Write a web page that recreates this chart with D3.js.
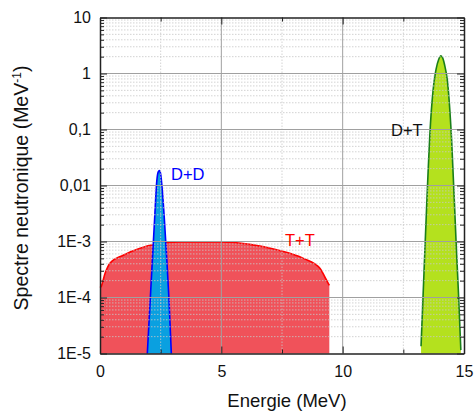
<!DOCTYPE html>
<html><head><meta charset="utf-8">
<script src="https://cdn.jsdelivr.net/npm/d3@7"></script>
<style>body{margin:0;background:#fff}svg{display:block}text{font-family:"Liberation Sans",Arial,sans-serif}</style>
</head><body><svg id="c" width="474" height="414"></svg>
<script>
// Data (energy in MeV, spectrum in MeV^-1)
const ttE = [0.0, 0.04, 0.21, 0.41, 0.96, 1.65, 2.34, 3.3, 4.95, 6.18, 7.28, 8.38, 9.07, 9.27, 9.45];
const ttV = [1.5e-4, 1.55e-4, 2.7e-4, 4.1e-4, 5.7e-4, 7.6e-4, 9.0e-4, 9.8e-4, 9.8e-4, 8.9e-4, 7.1e-4, 5.0e-4, 3.3e-4, 2.3e-4, 1.65e-4];
const ddE = [1.95, 2.05, 2.15, 2.25, 2.34, 2.40, 2.45, 2.50, 2.56, 2.65, 2.75, 2.85, 2.94];
const ddV = [1e-5, 6.3e-5, 4e-4, 2.5e-3, 1.2e-2, 1.75e-2, 1.85e-2, 1.6e-2, 9e-3, 2.6e-3, 5e-4, 8e-5, 1e-5];
const dtE = [13.23, 13.35, 13.46, 13.62, 13.76, 13.85, 13.96, 14.05, 14.12, 14.22, 14.31, 14.49, 14.67, 14.78, 14.87];
const dtV = [1.35e-5, 2.7e-4, 4.2e-3, 0.13, 0.68, 1.2, 1.8, 2.07, 1.9, 1.3, 0.78, 0.065, 1.07e-3, 1.0e-4, 1.15e-5];
const xTicks = [0, 5, 10, 15];
const yTicks = [1e-5, 1e-4, 1e-3, 1e-2, 1e-1, 1, 10];
const yTickLabels = ["1E-5", "1E-4", "1E-3", "0,01", "0,1", "1", "10"];

const svg = d3.select("#c");
const L = 100, R = 464, T = 17.5, B = 353.5;
const x = d3.scaleLinear().domain([0, 15]).range([L, R]);
const y = d3.scaleLog().domain([1e-5, 10]).range([B, T]);

const g = svg.append("g");
function series(E, V, fill, stroke) {
  const pts = E.map((e, i) => [e, V[i]]);
  const area = d3.area().x(d => x(d[0])).y0(y(1e-5)).y1(d => y(Math.max(d[1], 1e-5))).curve(d3.curveMonotoneX);
  g.append("path").datum(pts).attr("d", area).attr("fill", fill);
  const line = d3.line().x(d => x(d[0])).y(d => y(Math.max(d[1], 1e-5))).curve(d3.curveMonotoneX);
  g.append("path").datum(pts).attr("d", line).attr("fill", "none").attr("stroke", stroke).attr("stroke-width", 1.6);
}
series(ttE, ttV, "#f0525a", "#ff0000");
series(ddE, ddV, "#0aa0e0", "#0000ff");
series(dtE, dtV, "#b4e11e", "#1a7f1a");

// grid on top
const grid = svg.append("g");
const minorY = [];
for (let d = -5; d < 1; d++) for (let k = 2; k <= 9; k++) minorY.push(k * Math.pow(10, d));
grid.selectAll(".my").data(minorY).enter().append("line")
  .attr("x1", L).attr("x2", R).attr("y1", d => y(d)).attr("y2", d => y(d))
  .attr("stroke", "#c8c8c8").attr("stroke-width", 0.8).attr("stroke-dasharray", "1.5,1.5");
grid.selectAll(".mx").data([2.5, 7.5, 12.5]).enter().append("line")
  .attr("y1", T).attr("y2", B).attr("x1", d => x(d)).attr("x2", d => x(d))
  .attr("stroke", "#c8c8c8").attr("stroke-width", 0.8).attr("stroke-dasharray", "1.5,1.5");
grid.selectAll(".Y").data(yTicks.slice(1, -1)).enter().append("line")
  .attr("x1", L).attr("x2", R).attr("y1", d => y(d)).attr("y2", d => y(d))
  .attr("stroke", "#a0a0a0").attr("stroke-width", 1);
grid.selectAll(".X").data([5, 10]).enter().append("line")
  .attr("y1", T).attr("y2", B).attr("x1", d => x(d)).attr("x2", d => x(d))
  .attr("stroke", "#a0a0a0").attr("stroke-width", 1);

// axes
const fmt = d => yTickLabels[yTicks.indexOf(d)];
function styleAx(sel) { sel.selectAll("path").attr("stroke", "#222").attr("stroke-width", 1.5); sel.selectAll("line").attr("stroke", "#222"); sel.selectAll("text").attr("font-size", 16).attr("fill", "#111").attr("font-family", "Liberation Sans, Arial, sans-serif"); }
const minorX = [2.5, 7.5, 12.5];
svg.append("g").attr("transform", `translate(0,${B})`)
  .call(d3.axisBottom(x).tickValues(xTicks).tickSizeInner(-7).tickSizeOuter(0).tickPadding(12).tickFormat(d3.format("d"))).call(styleAx);
svg.append("g").attr("transform", `translate(0,${B})`)
  .call(d3.axisBottom(x).tickValues(minorX).tickSize(-4).tickFormat("")).call(s => { s.select("path").remove(); s.selectAll("line").attr("stroke", "#222"); });
svg.append("g").attr("transform", `translate(0,${T})`)
  .call(d3.axisTop(x).tickValues(xTicks).tickSizeInner(-7).tickSizeOuter(0).tickFormat("")).call(styleAx);
svg.append("g").attr("transform", `translate(0,${T})`)
  .call(d3.axisTop(x).tickValues(minorX).tickSize(-4).tickFormat("")).call(s => { s.select("path").remove(); s.selectAll("line").attr("stroke", "#222"); });
svg.append("g").attr("transform", `translate(${L},0)`)
  .call(d3.axisLeft(y).tickValues(yTicks).tickSizeInner(-7).tickSizeOuter(0).tickPadding(9).tickFormat(fmt)).call(styleAx);
svg.append("g").attr("transform", `translate(${L},0)`)
  .call(d3.axisLeft(y).tickValues(minorY).tickSize(-4).tickFormat("")).call(s => { s.select("path").remove(); s.selectAll("line").attr("stroke", "#222"); });
svg.append("g").attr("transform", `translate(${R},0)`)
  .call(d3.axisRight(y).tickValues(yTicks).tickSizeInner(-7).tickSizeOuter(0).tickFormat("")).call(styleAx);
svg.append("g").attr("transform", `translate(${R},0)`)
  .call(d3.axisRight(y).tickValues(minorY).tickSize(-4).tickFormat("")).call(s => { s.select("path").remove(); s.selectAll("line").attr("stroke", "#222"); });

// labels
svg.append("text").attr("x", 171).attr("y", 180).attr("font-size", 16.5).attr("fill", "#0000ff").text("D+D");
svg.append("text").attr("x", 285).attr("y", 246).attr("font-size", 16.5).attr("fill", "#ff0000").text("T+T");
svg.append("text").attr("x", 391).attr("y", 136).attr("font-size", 16.5).attr("fill", "#111").text("D+T");

svg.append("text").attr("x", 287).attr("y", 407).attr("text-anchor", "middle").attr("font-size", 18.5).attr("fill", "#111").text("Energie (MeV)");
const yt = svg.append("text").attr("transform", "translate(28,188) rotate(-90)").attr("text-anchor", "middle").attr("font-size", 19.5).attr("fill", "#111");
yt.append("tspan").text("Spectre neutronique (MeV");
yt.append("tspan").attr("dy", -7).attr("font-size", 12).text("-1");
yt.append("tspan").attr("dy", 7).text(")");
</script></body></html>
